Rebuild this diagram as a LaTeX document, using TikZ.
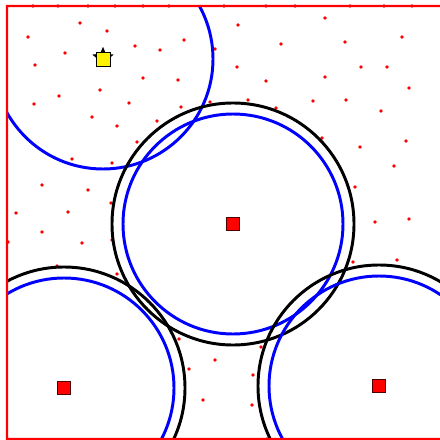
\documentclass[tikz,border=0pt]{standalone}
\usepackage{tikz}
\usetikzlibrary{shapes.geometric}

\begin{document}
\begin{tikzpicture}[x=0.025cm,y=-0.025cm,
  sensor/.style={draw=black!70!red,fill=red,minimum size=0.33cm,inner sep=0pt},
  mover/.style={draw=black,fill=yellow,minimum size=0.35cm,inner sep=0pt},
  senserange/.style={blue,line width=2.1pt},
  commrange/.style={black,line width=2.1pt},
  fieldband/.style={fill=red}]
  \useasboundingbox (0,0) rectangle (440,440);

  % sample points
  \foreach \px/\py in {33/6,58/6,88/6,115/6,143/6,169/6,224/6,266/6,295/6,350/6,384/6,412/6,
    80/23,107/31,28/37,135/46,184/40,65/53,160/50,215/49,35/65,143/78,178/80,
    100/90,59/96,34/104,129/103,181/107,210/102,92/117,117/126,157/121,137/142,
    72/159,112/163,42/185,88/190,111/203,16/213,68/212,
    325/18,238/25,402/37,281/44,345/42,237/67,361/67,387/67,266/81,325/77,409/88,
    248/100,313/101,346/100,276/108,381/111,322/138,360/147,406/141,394/166,
    355/187,409/219,375/222,353/262,397/260,
    42/232,8/242,82/243,112/240,57/266,117/274,
    179/339,215/360,189/369,203/400,261/347,253/375,252/405,267/439}
    \fill[red] (\px,\py) circle[radius=1.9];

  % nodes
  \node[star,star points=5,star point ratio=2.2,fill=black,minimum size=0.56cm,inner sep=0pt] (m0s) at (103,58) {};
  \node[mover] (m0) at (103,59) {};
  \node[sensor] (s1) at (233,224) {};
  \node[sensor] (s2) at (64,388) {};
  \node[sensor] (s3) at (379,386) {};

  % ranges
  \begin{scope}
    \clip (7,6) rectangle (440,439);
    \draw[senserange] (m0) circle[radius=110];
    \foreach \s in {s1,s2,s3}{
      \draw[commrange] (\s) circle[radius=121];
      \draw[senserange] (\s) circle[radius=110];
    }
  \end{scope}

  % field border: top, left and bottom sides only
  \fill[fieldband] (440,4.8) -- (5.8,4.8) -- (5.8,440) -- (440,440)
    -- (440,437.8) -- (8.2,437.8) -- (8.2,7.2) -- (440,7.2) -- cycle;
\end{tikzpicture}
\end{document}
